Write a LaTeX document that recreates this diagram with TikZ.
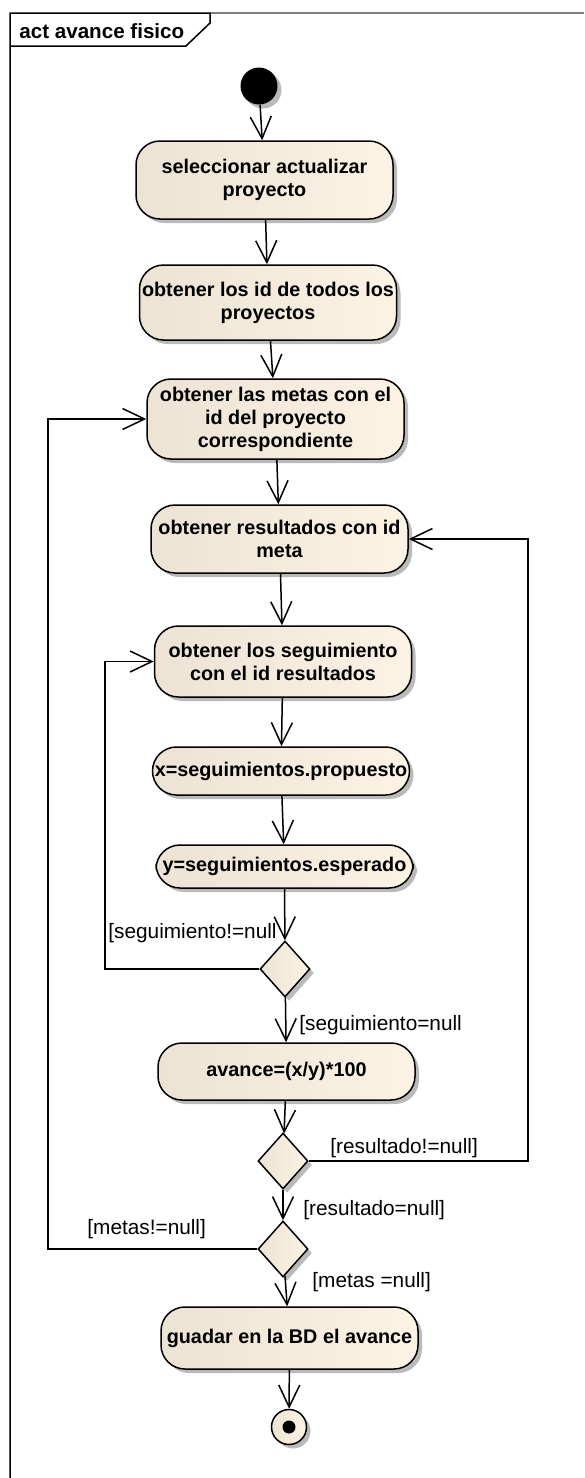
\documentclass[tikz,border=0pt]{standalone}
\usepackage{fontspec}
\setmainfont{Liberation Sans}
\usetikzlibrary{arrows.meta, positioning, shapes.geometric, shadows}
\definecolor{actleft}{RGB}{236,227,212}
\definecolor{actright}{RGB}{252,243,229}
\definecolor{framegray}{RGB}{128,128,128}

\begin{document}
\begin{tikzpicture}[x=0.5pt, y=-0.5pt,
    sombra/.style={drop shadow={shadow xshift=2pt, shadow yshift=-2pt, fill=black!27, opacity=1}},
    act/.style={draw, line width=0.75pt, rounded corners=12pt, left color=actleft, right color=actright,
        minimum width=128.5pt, inner sep=0pt, align=center, sombra,
        font=\bfseries\fontsize{9.9}{11.5}\selectfont},
    decision/.style={diamond, draw, line width=0.75pt, left color=actleft, right color=actright,
        minimum width=25pt, minimum height=28pt, inner sep=0pt, sombra},
    inicio/.style={circle, fill=black, minimum size=18.5pt, inner sep=0pt, sombra},
    fin/.style={circle, draw, line width=0.75pt, left color=actleft, right color=actright,
        minimum size=17.5pt, inner sep=0pt, sombra},
    flow/.style={draw, line width=0.75pt, -{Straight Barb[length=11pt,width=10.5pt]}},
    guard/.style={anchor=west, inner sep=0pt, font=\fontsize{10.4}{12}\selectfont}]
    \useasboundingbox (0,0) rectangle (584,1478);

    % marco del diagrama
    \draw[framegray, line width=0.75pt] (210,13) -- (584,13);
    \draw[line width=0.75pt] (10,1478) -- (10,13) -- (210,13) -- (210,23) -- (186,46) -- (10,46);
    \node[anchor=west, inner sep=0pt, font=\bfseries\fontsize{10.3}{11}\selectfont] (titulo) at (19,31) {act avance fisico};

    % acciones
    \node[inicio] (ini) at (259,86) {};
    \node[act, minimum height=39pt] (sel) at (264.5,180) {seleccionar actualizar\\proyecto};
    \node[act, minimum height=37.5pt] (ids) at (268,302.5) {obtener los id de todos los\\proyectos};
    \node[act, minimum height=40pt] (met) at (275.5,419) {obtener las metas con el\\id del proyecto\\correspondiente};
    \node[act, minimum height=34pt] (res) at (279.5,539) {obtener resultados con id\\meta};
    \node[act, minimum height=35.5pt] (seg) at (283,661.5) {obtener los seguimiento\\con el id resultados};
    \node[act, minimum height=24pt] (xp) at (281,771) {x=seguimientos.propuesto};
    \node[act, minimum height=21.5pt] (ye) at (284.5,866.5) {y=seguimientos.esperado};
    \node[decision] (d1) at (285,969) {};
    \node[act, minimum height=28.5pt] (avn) at (286.5,1071.5) {avance=(x/y)*100};
    \node[decision] (d2) at (283,1161) {};
    \node[decision] (d3) at (283,1249) {};
    \node[act, minimum height=31pt] (bd) at (289.5,1338) {guadar en la BD el avance};
    \node[fin] (fin) at (289,1427) {};
    \node[circle, fill=black, minimum size=6.5pt, inner sep=0pt] (findot) at (fin) {};

    % flujo principal
    \draw[flow] (ini) -- (sel);
    \draw[flow] (sel) -- (ids);
    \draw[flow] (ids) -- (met);
    \draw[flow] (met) -- (res);
    \draw[flow] (res) -- (seg);
    \draw[flow] (seg) -- (xp);
    \draw[flow] (xp) -- (ye);
    \draw[flow] (ye) -- (d1);
    \draw[flow] (d1) -- (avn);
    \draw[flow] (avn) -- (d2);
    \draw[flow] (d2) -- (d3);
    \draw[flow] (d3) -- (bd);
    \draw[flow] (bd) -- (fin);

    % ciclos
    \coordinate (izq1) at (105,0);
    \coordinate (izq2) at (48,0);
    \coordinate (der) at (528,0);
    \draw[flow] (d1) -- (d1 -| izq1) |- (seg);
    \draw[flow] (d2) -- (d2 -| der) |- (res);
    \draw[flow] (d3) -- (d3 -| izq2) |- (met);

    % guardas
    \node[guard] (g1) at (108,933) {[seguimiento!=null};
    \node[guard] (g2) at (299,1025) {[seguimiento=null};
    \node[guard] (g3) at (330,1148) {[resultado!=null]};
    \node[guard] (g4) at (303,1210) {[resultado=null]};
    \node[guard] (g5) at (87,1229) {[metas!=null]};
    \node[guard] (g6) at (312,1282) {[metas =null]};
\end{tikzpicture}
\end{document}
